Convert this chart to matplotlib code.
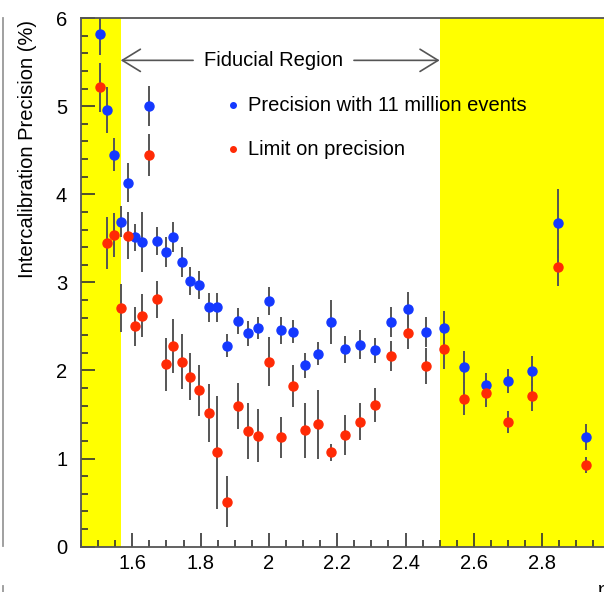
import matplotlib.pyplot as plt
from matplotlib.lines import Line2D
from matplotlib.ticker import MultipleLocator, FormatStrFormatter

plt.rcParams['font.family'] = ['Liberation Sans', 'DejaVu Sans']

eta = [1.505, 1.526, 1.546, 1.567, 1.588, 1.608, 1.628, 1.650, 1.673, 1.698,
       1.720, 1.745, 1.769, 1.796, 1.824, 1.849, 1.878, 1.908, 1.938, 1.969,
       2.001, 2.035, 2.071, 2.107, 2.144, 2.183, 2.223, 2.266, 2.312, 2.358,
       2.407, 2.459, 2.513, 2.572, 2.635, 2.699, 2.771, 2.847, 2.929]

precision = [5.82, 4.96, 4.45, 3.69, 4.13, 3.51, 3.46, 5.00, 3.47, 3.35,
             3.52, 3.235, 3.02, 2.97, 2.72, 2.72, 2.28, 2.56, 2.42, 2.48,
             2.79, 2.455, 2.44, 2.06, 2.19, 2.55, 2.24, 2.295, 2.23, 2.55,
             2.70, 2.435, 2.48, 2.04, 1.83, 1.88, 1.995, 3.67, 1.245]
precision_err = [0.24, 0.26, 0.19, 0.18, 0.22, 0.15, 0.34, 0.23, 0.16, 0.17,
                 0.17, 0.17, 0.16, 0.16, 0.165, 0.165, 0.13, 0.15, 0.14, 0.125,
                 0.16, 0.15, 0.13, 0.14, 0.13, 0.25, 0.15, 0.16, 0.14, 0.17,
                 0.19, 0.17, 0.20, 0.18, 0.14, 0.14, 0.17, 0.39, 0.15]

limit = [5.215, 3.447, 3.535, 2.71, 3.53, 2.50, 2.62, 4.445, 2.81, 2.07,
         2.28, 2.10, 1.93, 1.775, 1.52, 1.07, 0.51, 1.60, 1.31, 1.26,
         2.10, 1.24, 1.825, 1.32, 1.39, 1.07, 1.27, 1.42, 1.61, 2.16,
         2.43, 2.05, 2.24, 1.68, 1.745, 1.415, 1.71, 3.17, 0.93]
limit_err = [0.28, 0.29, 0.25, 0.27, 0.27, 0.22, 0.245, 0.24, 0.21, 0.30,
             0.31, 0.31, 0.27, 0.29, 0.33, 0.64, 0.29, 0.26, 0.32, 0.30,
             0.275, 0.23, 0.235, 0.31, 0.39, 0.10, 0.23, 0.21, 0.19, 0.17,
             0.19, 0.20, 0.22, 0.19, 0.16, 0.13, 0.17, 0.21, 0.09]

blue = '#1438ff'
red = '#ff2a05'
fs = 14.5

fig = plt.figure(figsize=(6.04, 5.92), dpi=100)
ax = fig.add_axes([0.1343, 0.0765, 0.8763, 0.893])

# excluded regions
ax.axvspan(1.45, 1.566, color='#ffff00', lw=0, zorder=0)
ax.axvspan(2.5, 3.0, color='#ffff00', lw=0, zorder=0)

ax.errorbar(eta, precision, yerr=precision_err, fmt='o', color=blue, ms=6.5,
            ecolor='#555555', elinewidth=1.4, capsize=0, zorder=3)
ax.errorbar(eta, limit, yerr=limit_err, fmt='o', color=red, ms=6.5,
            ecolor='#555555', elinewidth=1.4, capsize=0, zorder=3)

# fiducial region marker
arrow = dict(arrowstyle='->,head_length=0.65,head_width=0.4', color='#555555',
             lw=1.2, shrinkA=0, shrinkB=0, mutation_scale=20)
ax.annotate('', xy=(1.566, 5.52), xytext=(1.778, 5.52), arrowprops=arrow)
ax.annotate('', xy=(2.5, 5.52), xytext=(2.249, 5.52), arrowprops=arrow)
ax.text(2.013, 5.52, 'Fiducial Region', ha='center', va='center', fontsize=fs)

# legend
ax.plot([1.896], [5.01], 'o', color=blue, ms=4)
ax.plot([1.896], [4.51], 'o', color=red, ms=4)
ax.text(1.94, 5.01, 'Precision with 11 million events', va='center', fontsize=fs)
ax.text(1.94, 4.51, 'Limit on precision', va='center', fontsize=fs)

ax.set_xlim(1.45, 3.0)
ax.set_ylim(0, 6)
ax.xaxis.set_major_locator(MultipleLocator(0.2))
ax.xaxis.set_minor_locator(MultipleLocator(0.05))
ax.xaxis.set_major_formatter(FormatStrFormatter('%g'))
ax.yaxis.set_major_locator(MultipleLocator(1))
ax.yaxis.set_minor_locator(MultipleLocator(0.2))
ax.tick_params(which='both', direction='in', colors='#333333', labelcolor='black',
               labelsize=fs, width=1.2)
ax.tick_params(which='major', length=10)
ax.tick_params(which='minor', length=5)
ax.tick_params(axis='y', which='major', pad=10)
ax.tick_params(axis='x', which='major', pad=5)
for side in ['left', 'bottom', 'top', 'right']:
    ax.spines[side].set_color('#555555')
    ax.spines[side].set_linewidth(1.3)

fig.text(28 / 604, 1 - 20 / 592, 'Intercalibration Precision (%)', rotation=90,
         ha='center', va='top', fontsize=fs)
fig.text(598 / 604, 1 - 590 / 592, 'η', ha='left', va='center', fontsize=fs)

# edge of neighbouring panel
fig.add_artist(Line2D([2.5 / 604] * 2, [1 - 18 / 592, 1 - 546 / 592], color='#999999', lw=1.3))
fig.add_artist(Line2D([2.5 / 604] * 2, [1 - 586 / 592, 0], color='#999999', lw=1.3))

fig.savefig('out.png', dpi=100)
